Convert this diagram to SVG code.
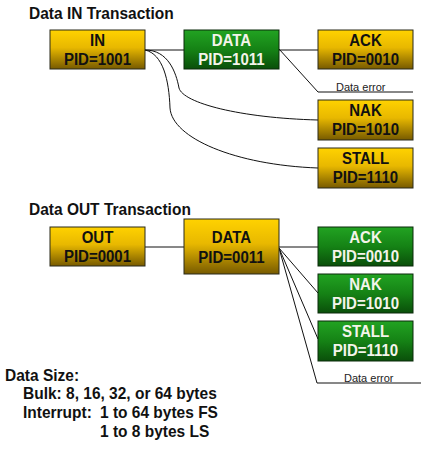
<svg xmlns="http://www.w3.org/2000/svg" width="421" height="458" viewBox="0 0 421 458">
<style>
.t{font-family:"Liberation Sans",Arial,sans-serif;font-weight:bold;font-size:15.5px;fill:#111;transform-box:fill-box;transform-origin:0 85%;transform:scaleY(1.08)}
.bt{font-family:"Liberation Sans",Arial,sans-serif;font-weight:bold;font-size:15px;text-anchor:middle;transform-box:fill-box;transform-origin:50% 100%;transform:scaleY(1.16)}
.y text{fill:#111}
.g text{fill:#f4f4ea}
.y rect{fill:url(#gy);stroke:#2a2a1a;stroke-width:1}
.g rect{fill:url(#gg);stroke:#0a2a0a;stroke-width:1}
.c{fill:none;stroke:#111;stroke-width:1}
.lbl{font-family:"Liberation Sans",Arial,sans-serif;font-size:11px;fill:#222}
</style>
<defs>
<linearGradient id="gy" x1="0" y1="0" x2="0" y2="1">
<stop offset="0" stop-color="#ffd200"/>
<stop offset="0.45" stop-color="#e8b800"/>
<stop offset="1" stop-color="#775a00"/>
</linearGradient>
<linearGradient id="gg" x1="0" y1="0" x2="0" y2="1">
<stop offset="0" stop-color="#22a322"/>
<stop offset="0.5" stop-color="#158215"/>
<stop offset="1" stop-color="#0a4f0a"/>
</linearGradient>
</defs>
<rect width="421" height="458" fill="#fff"/>
<text class="t" x="29" y="19">Data IN Transaction</text>
<text class="t" x="29" y="215">Data OUT Transaction</text>

<g id="connectors">
<path class="c" d="M145,50 L184,50"/>
<path class="c" d="M279,50 L318,50"/>
<path class="c" d="M279,49 L318,92 L413,92"/>
<path class="c" d="M145,50 C168,50 176,72 179,88 C183,103 240,118 318,120"/>
<path class="c" d="M145,50 C163,54 169,80 170,108 C172,138 235,165 318,168"/>
<text class="lbl" x="336" y="91">Data error</text>
<path class="c" d="M145,247 L184,247"/>
<path class="c" d="M279,247 L318,247"/>
<path class="c" d="M279,248 L318,293"/>
<path class="c" d="M279,248 L318,339"/>
<path class="c" d="M279,248 L317,383 L421,383"/>
<text class="lbl" x="344" y="382">Data error</text>
</g>

<g id="in" class="y"><rect x="50" y="30" width="95" height="39"/><text class="bt" x="97.5" y="46">IN</text><text class="bt" x="97.5" y="65">PID=1001</text></g>
<g id="data-in" class="g"><rect x="184" y="30" width="95" height="39"/><text class="bt" x="231.5" y="46">DATA</text><text class="bt" x="231.5" y="65">PID=1011</text></g>
<g id="ack-in" class="y"><rect x="318" y="30" width="95" height="39"/><text class="bt" x="365.5" y="46">ACK</text><text class="bt" x="365.5" y="65">PID=0010</text></g>
<g id="nak-in" class="y"><rect x="318" y="100" width="95" height="40"/><text class="bt" x="365.5" y="116">NAK</text><text class="bt" x="365.5" y="135">PID=1010</text></g>
<g id="stall-in" class="y"><rect x="318" y="148" width="95" height="40"/><text class="bt" x="365.5" y="164">STALL</text><text class="bt" x="365.5" y="183">PID=1110</text></g>

<g id="out" class="y"><rect x="50" y="227" width="95" height="39"/><text class="bt" x="97.5" y="243">OUT</text><text class="bt" x="97.5" y="262">PID=0001</text></g>
<g id="data-out" class="y"><rect x="184" y="219" width="95" height="55"/><text class="bt" x="231.5" y="243">DATA</text><text class="bt" x="231.5" y="263">PID=0011</text></g>
<g id="ack-out" class="g"><rect x="318" y="227" width="95" height="39"/><text class="bt" x="365.5" y="243">ACK</text><text class="bt" x="365.5" y="262">PID=0010</text></g>
<g id="nak-out" class="g"><rect x="318" y="274" width="95" height="39"/><text class="bt" x="365.5" y="290">NAK</text><text class="bt" x="365.5" y="309">PID=1010</text></g>
<g id="stall-out" class="g"><rect x="318" y="321" width="95" height="40"/><text class="bt" x="365.5" y="337">STALL</text><text class="bt" x="365.5" y="356">PID=1110</text></g>

<g id="data-size">
<text class="t" x="5" y="381">Data Size:</text>
<text class="t" x="23" y="399">Bulk: 8, 16, 32, or 64 bytes</text>
<text class="t" x="23" y="418">Interrupt:</text>
<text class="t" x="100" y="418">1 to 64 bytes FS</text>
<text class="t" x="100" y="437">1 to 8 bytes LS</text>
</g>
</svg>
